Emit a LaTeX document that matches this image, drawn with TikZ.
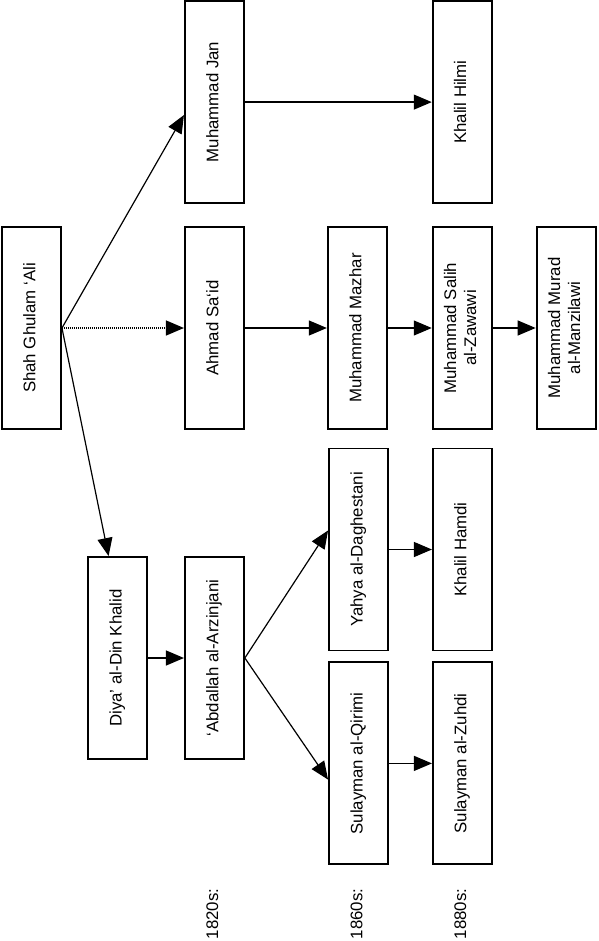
\documentclass[tikz,border=0pt]{standalone}
\usepackage{fontspec}
\setmainfont{Liberation Sans}
\usepackage{graphicx}
\usepackage{tikz}
\usetikzlibrary{arrows.meta,positioning}

\newcommand{\vtext}[1]{\rotatebox{90}{\begin{tabular}{@{}c@{}}#1\end{tabular}}}

\begin{document}
\begin{tikzpicture}[x=1pt, y=-1pt,
        box/.style={draw, line width=1.9pt, minimum width=59pt, minimum height=202pt, inner sep=0pt, font=\fontsize{16.8}{20}\selectfont},
        era/.style={inner sep=0pt, font=\fontsize{16.8}{20}\selectfont},
        link/.style={line width=1.2pt, -{Triangle[length=18pt,width=15pt]}}]
        \useasboundingbox (0,0) rectangle (598,941);

        \node[box] (shah) at (31.5,328) {\vtext{Shah Ghulam ‘Ali}};
        \node[box, right=122pt of shah] (ahmad) {\vtext{Ahmad Sa‘id}};
        \node[box, above=22pt of ahmad] (mjan) {\vtext{Muhammad Jan}};
        \node[box, right=82pt of ahmad] (mazhar) {\vtext{Muhammad Mazhar}};
        \node[box, right=44pt of mazhar] (salih) {\vtext{Muhammad Salih\\al-Zawawi}};
        \node[box, right=43pt of salih] (murad) {\vtext{Muhammad Murad\\al-Manzilawi}};
        \node[box, above=22pt of salih] (hilmi) {\vtext{Khalil Hilmi}};
        \node[box] (diya) at (117.5,658) {\vtext{Diya’ al-Din Khalid}};
        \node[box, right=36pt of diya] (abdallah) {\vtext{‘Abdallah al-Arzinjani}};
        \node[box] (yahya) at (358.5,549.5) {\vtext{Yahya al-Daghestani}};
        \node[box, below=10pt of yahya] (sulq) {\vtext{Sulayman al-Qirimi}};
        \node[box, right=43pt of yahya] (hamdi) {\vtext{Khalil Hamdi}};
        \node[box, right=43pt of sulq] (zuhdi) {\vtext{Sulayman al-Zuhdi}};

        \coordinate (eraline) at (0,914);
        \node[era] (e1820) at ([xshift=-2pt]abdallah |- eraline) {\rotatebox{90}{1820s:}};
        \node[era] (e1860) at ([xshift=-2pt]sulq |- eraline) {\rotatebox{90}{1860s:}};
        \node[era] (e1880) at ([xshift=-2pt]zuhdi |- eraline) {\rotatebox{90}{1880s:}};

        \draw[link] (shah.east) -- (mjan.203);
        \draw[link, dash pattern=on 1pt off 1pt] (shah.east) -- (ahmad.west);
        \draw[link] (shah.east) -- (diya.95);
        \draw[link] (mjan) -- (hilmi);
        \draw[link] (ahmad) -- (mazhar);
        \draw[link] (mazhar) -- (salih);
        \draw[link] (salih) -- (murad);
        \draw[link] (diya) -- (abdallah);
        \draw[link] (abdallah.east) -- (yahya.148);
        \draw[link] (abdallah.east) -- (sulq.208);
        \draw[link] (yahya) -- (hamdi);
        \draw[link] (sulq) -- (zuhdi);
    \end{tikzpicture}
\end{document}
